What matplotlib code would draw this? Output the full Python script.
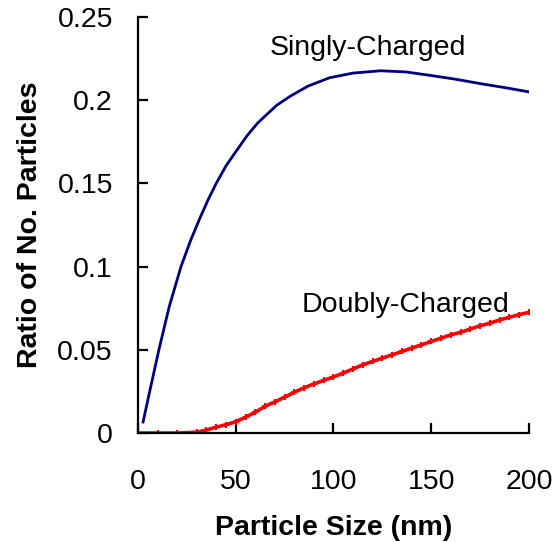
import matplotlib.pyplot as plt

plt.rcParams['font.family'] = ['Liberation Sans', 'DejaVu Sans']

# particle size (nm) and ratio of particles carrying one / two charges
size_single = [2.6, 6, 10.7, 16, 22, 27, 32, 36, 40, 45, 50, 56, 61, 65, 71,
               78, 87, 98, 110, 124, 137, 149, 162, 175, 188, 200]
ratio_single = [0.0066, 0.025, 0.050, 0.076, 0.100, 0.116, 0.130, 0.1405,
                0.150, 0.1605, 0.169, 0.179, 0.186, 0.1905, 0.197, 0.2025,
                0.2085, 0.2135, 0.2163, 0.2177, 0.217, 0.215, 0.2127, 0.210,
                0.2075, 0.205]

size_double = [0, 10, 20, 30, 35, 40, 45, 50, 55, 60, 65, 70, 75, 80, 85, 90,
               95, 100, 105, 110, 115, 120, 125, 130, 135, 140, 145, 150, 155,
               160, 165, 170, 175, 180, 185, 190, 195, 200]
ratio_double = [0.0, 0.0, 0.0, 0.0005, 0.0018, 0.0035, 0.005, 0.0068, 0.0095,
                0.0125, 0.016, 0.0188, 0.0215, 0.0245, 0.0272, 0.0295, 0.0316,
                0.0337, 0.036, 0.0385, 0.041, 0.043, 0.0450, 0.047, 0.049,
                0.051, 0.053, 0.055, 0.057, 0.059, 0.0605, 0.0625, 0.0645,
                0.066, 0.068, 0.0695, 0.0712, 0.0725]

fig = plt.figure(figsize=(5.55, 5.42), dpi=100)
ax = fig.add_axes([0.2486, 0.2011, 0.7046, 0.7675])

ax.plot(size_single, ratio_single, color='#000080', lw=2.0)
ax.plot(size_double, ratio_double, color='#ff0000', lw=2.6,
        marker='+', markersize=5, markeredgewidth=1.5)

ax.text(117.6, 0.227, 'Singly-Charged', fontsize=20.5, ha='center', va='baseline')
ax.text(137, 0.0727, 'Doubly-Charged', fontsize=20.5, ha='center', va='baseline')

ax.set_xlim(0, 200)
ax.set_ylim(0, 0.25)
ax.set_xticks([0, 50, 100, 150, 200])
ax.set_yticks([0, 0.05, 0.1, 0.15, 0.2, 0.25])
ax.set_yticklabels(['0', '0.05', '0.1', '0.15', '0.2', '0.25'])

for side in ['top', 'right']:
    ax.spines[side].set_visible(False)
for side in ['left', 'bottom']:
    ax.spines[side].set_linewidth(1.6)

ax.tick_params(axis='both', direction='in', length=7, width=1.6, labelsize=20.5)
ax.tick_params(axis='y', pad=18)
ax.tick_params(axis='x', pad=26)

ax.set_xlabel('Particle Size (nm)', fontsize=20.5, fontweight='bold', labelpad=14)
ax.set_ylabel('Ratio of No. Particles', fontsize=20.5, fontweight='bold', labelpad=10)

fig.savefig('out.png', dpi=100)
